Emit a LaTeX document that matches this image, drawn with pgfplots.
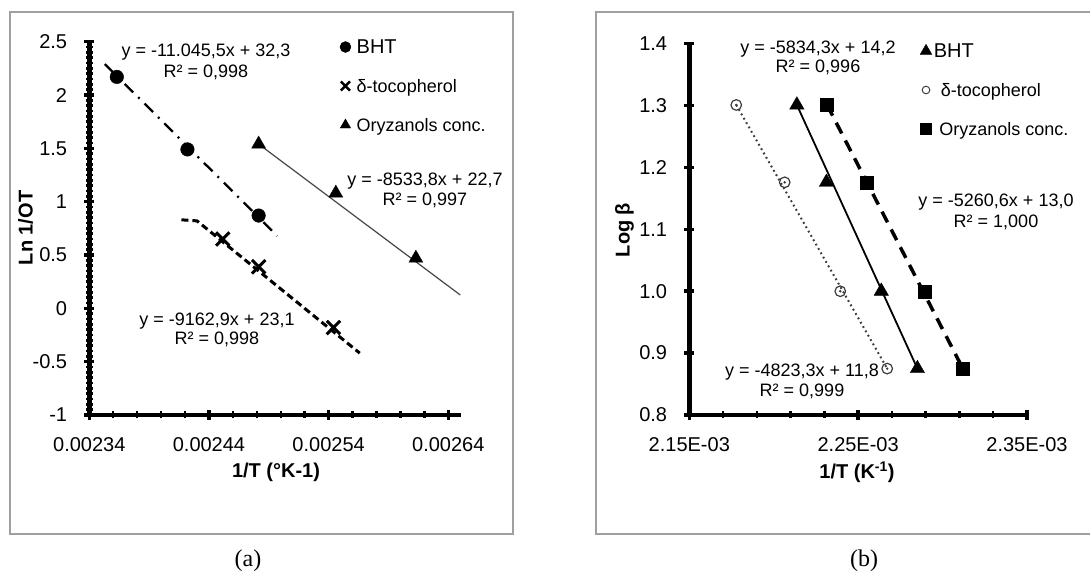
\documentclass[border=0pt]{standalone}
\usepackage{fontspec}
\setmainfont{Liberation Sans}
\newfontfamily\timesfont{Liberation Serif}
\usepackage{pgfplots}
\pgfplotsset{compat=1.18}

\definecolor{framegray}{RGB}{160,160,160}
\definecolor{linegray}{RGB}{70,70,70}
\definecolor{dotgray}{RGB}{60,60,60}

\newcommand{\fs}[1]{\fontsize{#1}{#1}\selectfont}

\pgfplotsset{
  panel/.style={
    scale only axis, anchor=south west,
    axis x line*=bottom, axis y line*=left,
    axis line style={line width=4.5pt, -, black},
    scaled x ticks=false, scaled y ticks=false,
    tick align=center,
    major tick length=10pt, minor tick length=7pt,
    major tick style={line width=3.5pt, black},
    minor tick style={line width=2.5pt, black},
    tick label style={font=\fs{20}},
    xticklabel style={anchor=north, inner sep=0pt, yshift=-17pt},
    yticklabel style={anchor=east, inner sep=0pt, xshift=-17pt},
    legend cell align=left,
    legend style={draw=none, fill=none, anchor=west, inner sep=0pt,
      row sep=22pt, font=\fs{18},
      nodes={inner sep=0pt, text height=15pt, text depth=2pt}},
    legend image code/.code={
      \path (0pt,0pt) (10pt,0pt);
      \draw[mark repeat=1,##1] plot coordinates {(5pt,0pt)};},
  },
}

\begin{document}
\begin{tikzpicture}
\path[use as bounding box] (0pt,0pt) rectangle (1090pt,575pt);

% ---------- (a) ----------
\begin{axis}[panel,
  at={(89.3pt,160pt)}, width=371.7pt, height=373.3pt,
  xmin=0.00234, xmax=0.0026506, ymin=-1, ymax=2.5,
  xtick={0.00234,0.00244,0.00254,0.00264},
  xticklabels={0.00234,0.00244,0.00254,0.00264},
  minor x tick num=4,
  ytick={-1,-0.5,0,0.5,1,1.5,2,2.5},
  yticklabels={-1,-0.5,0,0.5,1,1.5,2,2.5},
  minor y tick num=9,
  legend style={at={(0.6718,0.8813)}, column sep=5pt},
]
\addlegendimage{mark=*, mark size=5.5pt, black}
\addlegendentry{\fs{20}BHT}
\addlegendimage{mark=x, mark size=6.5pt, line width=2.5pt, black}
\addlegendentry{δ-tocopherol}
\addlegendimage{mark=triangle*, mark size=6pt, black}
\addlegendentry{Oryzanols conc.}

% BHT
\addplot[forget plot, black, line width=2.3pt,
  dash pattern=on 12pt off 7pt on 2pt off 7pt] coordinates {
  (0.002353,2.29) (0.002497,0.68)};
\addplot[forget plot, only marks, mark=*, mark size=6.8pt, black] coordinates {
  (0.002363,2.17) (0.002422,1.49) (0.0024815,0.87)};

% delta-tocopherol
\addplot[forget plot, black, line width=3pt,
  dash pattern=on 7pt off 4pt] coordinates {
  (0.002417,0.83) (0.002430,0.82) (0.002566,-0.42)};
\addplot[forget plot, only marks, mark=x, mark size=9.5pt, line width=3pt, black] coordinates {
  (0.0024515,0.65) (0.0024815,0.39) (0.002544,-0.18)};

% Oryzanols conc.
\addplot[forget plot, linegray, line width=1.2pt] coordinates {
  (0.0024815,1.54) (0.00265,0.125)};
\addplot[forget plot, only marks, mark=triangle*, mark size=8pt, black] coordinates {
  (0.0024815,1.54) (0.002546,1.08) (0.0026129,0.47)};
\end{axis}

% ---------- (b) ----------
\begin{axis}[panel,
  at={(689.3pt,160pt)}, width=337.7pt, height=371.3pt,
  xmin=0.00215, xmax=0.00235, ymin=0.8, ymax=1.4,
  xtick={0.00215,0.00225,0.00235},
  xticklabels={2.15E-03,2.25E-03,2.35E-03},
  minor x tick num=4,
  ytick={0.8,0.9,1.0,1.1,1.2,1.3,1.4},
  yticklabels={0.8,0.9,1.0,1.1,1.2,1.3,1.4},
  legend style={at={(0.6832,0.8753)}, column sep=2pt},
]
\addlegendimage{mark=triangle*, mark size=6.7pt, black}
\addlegendentry{\fs{20}BHT}
\addlegendimage{mark=o, mark size=3.8pt, line width=1pt, dotgray}
\addlegendentry{\hspace{7pt}δ-tocopherol}
\addlegendimage{mark=square*, mark size=5.5pt, black}
\addlegendentry{\hspace{5.5pt}Oryzanols conc.}

% delta-tocopherol
\addplot[forget plot, dotgray, line width=2pt,
  dash pattern=on 1.8pt off 3.2pt] coordinates {
  (0.0021778,1.301) (0.0022672,0.875)};
\addplot[forget plot, only marks, mark=o, mark size=5.3pt, line width=1.2pt, dotgray] coordinates {
  (0.0021778,1.301) (0.0022065,1.176) (0.0022394,1.0) (0.0022672,0.875)};
\addplot[forget plot, only marks, mark=*, mark size=1pt, dotgray] coordinates {
  (0.0021778,1.301) (0.0022065,1.176) (0.0022394,1.0) (0.0022672,0.875)};

% BHT
\addplot[forget plot, black, line width=1.8pt] coordinates {
  (0.0022137,1.301) (0.0022851,0.875)};
\addplot[forget plot, only marks, mark=triangle*, mark size=8.3pt, black] coordinates {
  (0.0022137,1.301) (0.0022312,1.176) (0.0022637,1.0) (0.0022851,0.875)};

% Oryzanols conc.
\addplot[forget plot, black, line width=3.5pt,
  dash pattern=on 12pt off 8pt] coordinates {
  (0.0022316,1.301) (0.0023120,0.875)};
\addplot[forget plot, only marks, mark=square*, mark size=6.5pt, black] coordinates {
  (0.0022316,1.301) (0.0022549,1.176) (0.0022894,1.0) (0.0023120,0.875)};
\end{axis}

% ---------- frames and texts, in picture pixels (y downwards) ----------
\begin{scope}[x=1pt, y=-1pt, shift={(0pt,575pt)},
  every node/.style={inner sep=0pt, text height=0.72em, text depth=0pt}]
\draw[framegray, line width=1.3pt] (10,12) rectangle (513,534);
\draw[framegray, line width=1.3pt] (1095,12) -- (596,12) -- (596,534) -- (1095,534);

\begin{scope}[every node/.append style={font=\fs{18}}]
\node at (206,53) {y = -11.045,5x + 32,3};
\node at (206,74) {R² = 0,998};
\node at (425,182) {y = -8533,8x + 22,7};
\node at (425,202) {R² = 0,997};
\node at (217,322) {y = -9162,9x + 23,1};
\node at (217,341) {R² = 0,998};

\node at (818,50) {y = -5834,3x + 14,2};
\node at (818,69) {R² = 0,996};
\node at (996,203) {y = -5260,6x + 13,0};
\node at (996,224) {R² = 1,000};
\node at (802,373) {y = -4823,3x + 11,8};
\node at (802,393) {R² = 0,999};
\end{scope}

\begin{scope}[every node/.append style={font=\fs{20}\bfseries}]
\node[rotate=90] at (29,228) {Ln 1/OT};
\node at (276,474) {1/T (°K-1)};
\node[rotate=90] at (626,230) {Log β};
\node at (857,475) {1/T (K\textsuperscript{-1})};
\end{scope}

\node[font=\timesfont\fs{24}] at (248,563) {(a)};
\node[font=\timesfont\fs{24}] at (864,563) {(b)};
\end{scope}
\end{tikzpicture}
\end{document}
